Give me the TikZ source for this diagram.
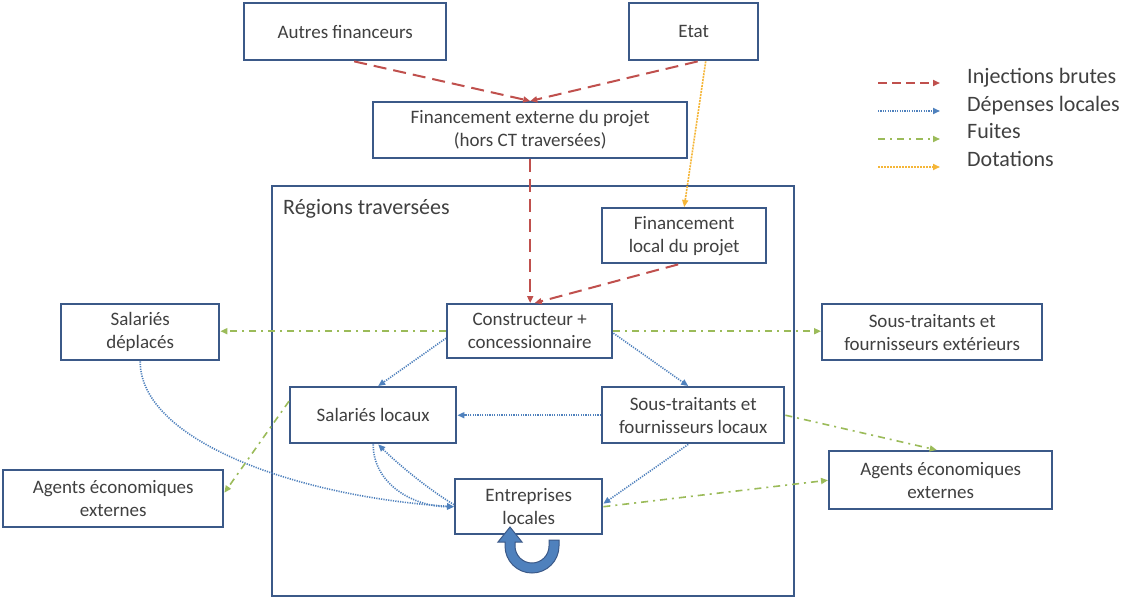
\documentclass[tikz,border=0pt]{standalone}
\usepackage{fontspec}
\setmainfont{Carlito}
\usetikzlibrary{arrows.meta,calc}
\definecolor{boxc}{HTML}{3B5988}
\definecolor{txt}{HTML}{404040}
\definecolor{inj}{HTML}{C0504D}
\definecolor{dep}{HTML}{4F81BD}
\definecolor{fui}{HTML}{9BBB59}
\definecolor{dotc}{HTML}{F5B638}
\definecolor{uarr}{HTML}{4F81BD}
\begin{document}
\begin{tikzpicture}[x=1pt,y=-1pt,
 box/.style={draw=boxc, line width=2.4pt, fill=white, text=txt, font=\fontsize{19}{23}\selectfont, align=center, inner sep=0pt, anchor=north west},
 tip/.style={-{Triangle[length=7pt,width=6pt]}},
 inject/.style={tip, draw=inj, line width=2pt, dash pattern=on 13pt off 7pt},
 depense/.style={tip, draw=dep, line width=1.6pt, dash pattern=on 1.2pt off 1.2pt},
 fuite/.style={tip, draw=fui, line width=1.6pt, dash pattern=on 7pt off 5pt on 2pt off 5pt},
 dotation/.style={tip, draw=dotc, line width=1.6pt, dash pattern=on 2pt off 1pt},
 legtext/.style={anchor=west, text=txt, font=\fontsize{22}{26}\selectfont, inner sep=0pt}]
\path[use as bounding box, fill=white] (0,0) rectangle (1121,597);

% region
\node[draw=boxc, line width=2.4pt, anchor=north west, minimum width=522pt, minimum height=410pt, inner sep=0pt] (region) at (271,185) {};
\node[legtext] (reglabel) at (283,209) {Régions traversées};

% boxes
\node[box, minimum width=202pt, minimum height=57pt] (autres) at (243,2) {Autres financeurs};
\node[box, minimum width=129pt, minimum height=57pt] (etat) at (628,2) {Etat};
\node[box, minimum width=314pt, minimum height=56pt] (finext) at (372,101) {Financement externe du projet\\(hors CT traversées)};
\node[box, minimum width=164pt, minimum height=55pt] (finloc) at (601,207) {Financement\\local du projet};
\node[box, minimum width=165pt, minimum height=54pt] (constr) at (446,303) {Constructeur +\\concessionnaire};
\node[box, minimum width=158pt, minimum height=56pt] (saldep) at (60,303) {Salariés\\déplacés};
\node[box, minimum width=220pt, minimum height=56pt] (stext) at (821,303) {Sous-traitants et\\fournisseurs extérieurs};
\node[box, minimum width=166pt, minimum height=56pt] (salloc) at (289,386) {Salariés locaux};
\node[box, minimum width=182pt, minimum height=56pt] (stloc) at (601,386) {Sous-traitants et\\fournisseurs locaux};
\node[box, minimum width=147pt, minimum height=55pt] (entr) at (454,478) {Entreprises\\locales};
\node[box, minimum width=220pt, minimum height=57pt] (agl) at (2,469) {Agents économiques\\externes};
\node[box, minimum width=223pt, minimum height=58pt] (agr) at (828,450) {Agents économiques\\externes};

% injections
\draw[inject] ([xshift=9pt]autres.south) -- (finext.north);
\draw[inject] ([xshift=4pt]etat.south) -- (finext.north);
\draw[inject] (finext.south) -- (finext.south |- constr.north);
\draw[inject] ([xshift=-6pt]finloc.south) -- ([xshift=5pt]constr.north);
% dotations
\draw[dotation] ([xshift=12pt]etat.south) -- (finloc.north);
% depenses locales
\draw[depense] ([yshift=-7pt]constr.west) -- ([xshift=5pt]salloc.north);
\draw[depense] ([yshift=-2pt]constr.east) -- ([xshift=-5pt]stloc.north);
\draw[depense] (stloc.west) -- (salloc.east);
\draw[depense] ([xshift=-5pt]stloc.south) -- ([yshift=3pt]entr.east);
\draw[depense] (saldep.south) .. controls +(0,80) and +(-155,-10) .. (entr.west);
\draw[depense] (salloc.south) .. controls +(0,40) and +(-40,0) .. (entr.west);
\draw[depense] ([yshift=2pt]entr.west) .. controls +(-25,-15) and +(20,20) .. ([xshift=5pt]salloc.south);
% fuites
\draw[fuite] (constr.west) -- (constr.west -| saldep.east);
\draw[fuite] (constr.east) -- (constr.east -| stext.west);
\draw[fuite] ([yshift=14pt]salloc.west) -- ([yshift=6pt]agl.east);
\draw[fuite] (stloc.east) -- ([xshift=-4pt]agr.north);
\draw[fuite] (entr.east) -- (agr.west);

% loop arrow below entreprises
\filldraw[fill=uarr, draw=boxc, line width=1pt]
  (559,540) -- (559,546) arc[start angle=0, end angle=180, radius=27]
  -- (505,542) -- (498,542) -- (510,527) -- (522,542) -- (515,542) -- (515,546)
  arc[start angle=180, end angle=0, radius=17] -- (549,540) -- cycle;

% legend
\coordinate (l1a) at (878,83);  \coordinate (l1b) at (940,83);
\coordinate (l2a) at (878,111); \coordinate (l2b) at (940,111);
\coordinate (l3a) at (878,139); \coordinate (l3b) at (940,139);
\coordinate (l4a) at (878,167); \coordinate (l4b) at (940,167);
\draw[inject, dash pattern=on 9pt off 5pt] (l1a) -- (l1b);
\draw[depense] (l2a) -- (l2b);
\draw[fuite] (l3a) -- (l3b);
\draw[dotation] (l4a) -- (l4b);
\node[legtext] (lt1) at (967,78) {Injections brutes};
\node[legtext] (lt2) at (967,106) {Dépenses locales};
\node[legtext] (lt3) at (967,131) {Fuites};
\node[legtext] (lt4) at (967,159) {Dotations};
\end{tikzpicture}
\end{document}
